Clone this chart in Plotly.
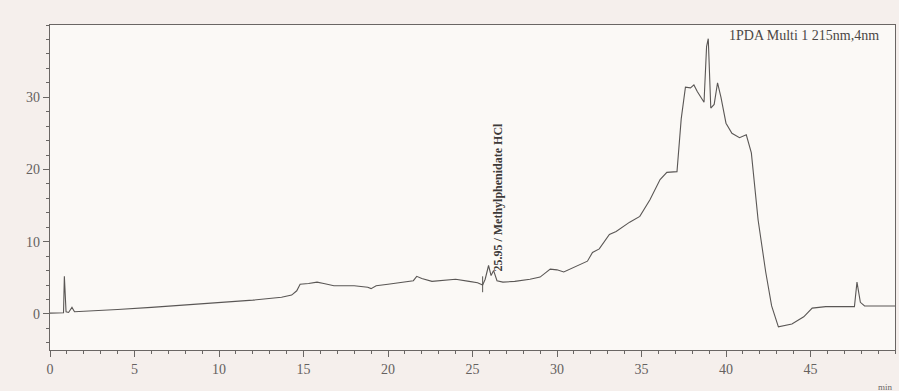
import plotly.graph_objects as go

# Chromatogram trace: retention time (min) vs detector response (mAU)
time_min = [0.0, 0.3, 0.8, 0.85, 0.95, 1.1, 1.3, 1.45, 2.5, 4.0, 6.0, 9.0, 12.0, 13.7,
            14.3, 14.6, 14.8, 15.3, 15.8, 16.2, 16.8, 18.0, 18.8, 19.0, 19.3, 20.0,
            21.0, 21.5, 21.7, 22.0, 22.6, 23.4, 24.0, 24.8, 25.3, 25.6, 25.75, 25.95,
            26.1, 26.25, 26.45, 26.8, 27.5, 28.4, 29.0, 29.6, 30.0, 30.4, 30.8, 31.2,
            31.8, 32.1, 32.5, 33.1, 33.5, 34.3, 34.9, 35.5, 36.1, 36.5, 37.1, 37.35,
            37.6, 37.9, 38.1, 38.3, 38.7, 38.85, 38.95, 39.1, 39.3, 39.5, 39.7, 40.0,
            40.35, 40.8, 41.2, 41.5, 41.9, 42.35, 42.7, 43.1, 43.9, 44.6, 45.1, 45.9,
            47.6, 47.75, 47.95, 48.2, 50.0]
response = [0.1, 0.1, 0.15, 5.2, 0.3, 0.2, 0.9, 0.3, 0.4, 0.6, 0.9, 1.4, 1.9, 2.3,
            2.6, 3.2, 4.1, 4.2, 4.4, 4.2, 3.9, 3.9, 3.7, 3.5, 3.9, 4.1,
            4.4, 4.6, 5.2, 4.9, 4.5, 4.7, 4.8, 4.5, 4.3, 4.0, 4.8, 6.7,
            5.3, 6.0, 4.6, 4.4, 4.5, 4.8, 5.1, 6.2, 6.1, 5.8, 6.2, 6.6,
            7.3, 8.5, 9.0, 11.0, 11.4, 12.7, 13.5, 15.8, 18.6, 19.6, 19.7, 27.0,
            31.4, 31.3, 31.7, 30.8, 29.3, 37.0, 38.1, 28.5, 29.0, 32.0, 30.0, 26.4,
            25.0, 24.4, 24.8, 22.3, 13.0, 5.8, 1.1, -1.8, -1.4, -0.4, 0.8, 1.0,
            1.0, 4.4, 1.6, 1.1, 1.1]

# Integration start marker and identified peak
marker_time = [25.6]
marker_span = [3.0, 5.2]
peak_time = 25.95
peak_height = 6.7
peak_label = "25.95 / Methylphenidate HCl"
channel_label = "1PDA Multi 1 215nm,4nm"

x_ticks = [0, 5, 10, 15, 20, 25, 30, 35, 40, 45]
y_ticks = [0, 10, 20, 30]

ink = "#5a5755"
serif = "Liberation Serif, Times New Roman, serif"

fig = go.Figure()
fig.add_trace(go.Scatter(x=time_min, y=response, mode="lines",
                         line=dict(color=ink, width=1.1), hoverinfo="x+y"))
fig.add_trace(go.Scatter(x=marker_time * 2, y=marker_span, mode="lines",
                         line=dict(color=ink, width=1.0), hoverinfo="skip"))

fig.add_annotation(x=peak_time, y=peak_height, text="<b>" + peak_label + "</b>",
                   textangle=-90, showarrow=False, xanchor="center", yanchor="bottom",
                   xshift=9, yshift=-8, font=dict(family=serif, size=12, color="#3d3a38"))
fig.add_annotation(x=1, y=1, xref="paper", yref="paper", text=channel_label,
                   showarrow=False, xanchor="right", yanchor="top", xshift=-14,
                   yshift=-1, font=dict(family=serif, size=14, color="#4a4745"))
fig.add_annotation(x=1, y=0, xref="paper", yref="paper", text="min",
                   showarrow=False, xanchor="right", yanchor="top", yshift=-30,
                   font=dict(family=serif, size=9, color="#6a6664"))

axis_common = dict(showgrid=False, zeroline=False, showline=True, linecolor="#6a6664",
                   linewidth=1.2, mirror=True, ticks="outside", tickcolor="#6a6664",
                   tickfont=dict(family=serif, size=14, color="#65615f"))

fig.update_xaxes(range=[0, 50], tickvals=x_ticks, ticklen=6,
                 minor=dict(dtick=1, ticks="outside", ticklen=3, tickcolor="#6a6664"),
                 **axis_common)
fig.update_yaxes(range=[-5, 40], tickvals=y_ticks, ticklen=6,
                 minor=dict(dtick=2, ticks="outside", ticklen=3, tickcolor="#6a6664"),
                 **axis_common)

fig.update_layout(width=899, height=391, showlegend=False,
                  margin=dict(l=50, r=4, t=25, b=41),
                  paper_bgcolor="#f5efec", plot_bgcolor="#fbf9f6")

fig.write_html("out.html")
